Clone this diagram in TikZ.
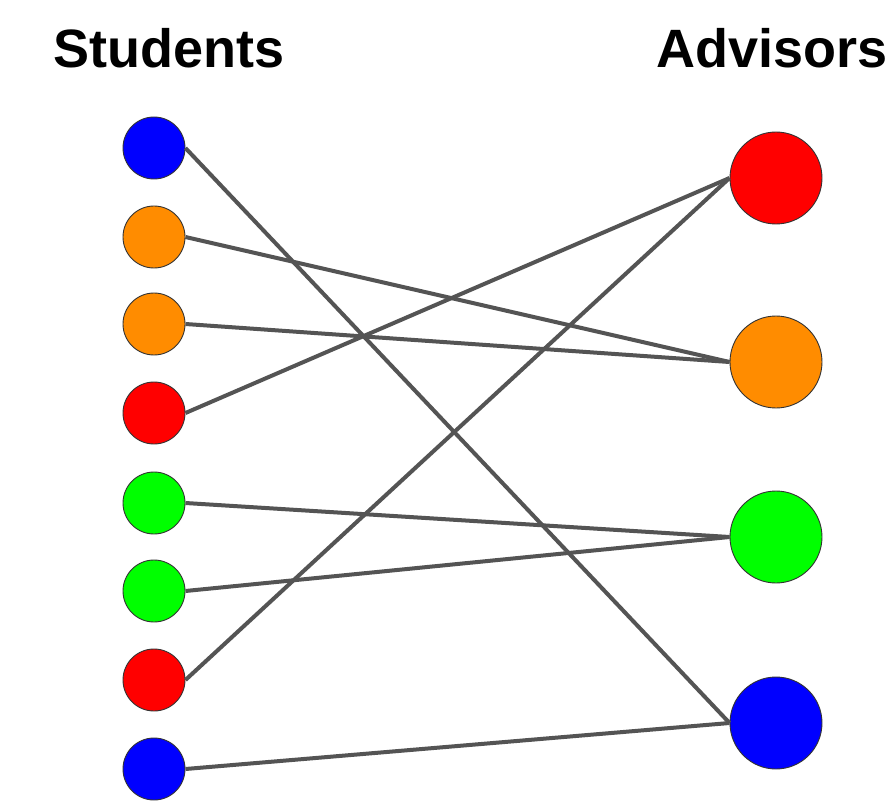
\documentclass[tikz,border=0pt]{standalone}
\usepackage{fontspec}
\setmainfont{Liberation Sans}
\begin{document}
\begin{tikzpicture}[x=1pt,y=-1pt,
  student/.style={circle,draw=black!80,line width=0.9pt,minimum size=62pt,inner sep=0pt},
  advisor/.style={circle,draw=black!80,line width=0.9pt,minimum size=92pt,inner sep=0pt},
  link/.style={draw=black!67,line width=4pt},
  heading/.style={anchor=base west,inner sep=0pt,font=\fontsize{54}{60}\selectfont\bfseries}]
\definecolor{cblue}{RGB}{0,0,255}
\definecolor{corange}{RGB}{255,140,0}
\definecolor{cgreen}{RGB}{0,255,0}
\definecolor{cred}{RGB}{255,0,0}
\useasboundingbox[fill=white] (0,0) rectangle (886,802);

% column headings
\node[heading] (hs) at (53,68) {Students};
\node[heading] (ha) at (656,68) {Advisors};

% students
\node[student,fill=cblue]   (s1) at (154,148) {};
\node[student,fill=corange] (s2) at (154,237) {};
\node[student,fill=corange] (s3) at (154,324) {};
\node[student,fill=cred]    (s4) at (154,413) {};
\node[student,fill=cgreen]  (s5) at (154,503) {};
\node[student,fill=cgreen]  (s6) at (154,591) {};
\node[student,fill=cred]    (s7) at (154,680) {};
\node[student,fill=cblue]   (s8) at (154,769) {};

% advisors
\node[advisor,fill=cred]    (a1) at (776,178) {};
\node[advisor,fill=corange] (a2) at (776,362) {};
\node[advisor,fill=cgreen]  (a3) at (776,537) {};
\node[advisor,fill=cblue]   (a4) at (776,723) {};

% assignments
\draw[link] (s1.east) -- (a4.west);
\draw[link] (s2.east) -- (a2.west);
\draw[link] (s3.east) -- (a2.west);
\draw[link] (s4.east) -- (a1.west);
\draw[link] (s5.east) -- (a3.west);
\draw[link] (s6.east) -- (a3.west);
\draw[link] (s7.east) -- (a1.west);
\draw[link] (s8.east) -- (a4.west);
\end{tikzpicture}
\end{document}
